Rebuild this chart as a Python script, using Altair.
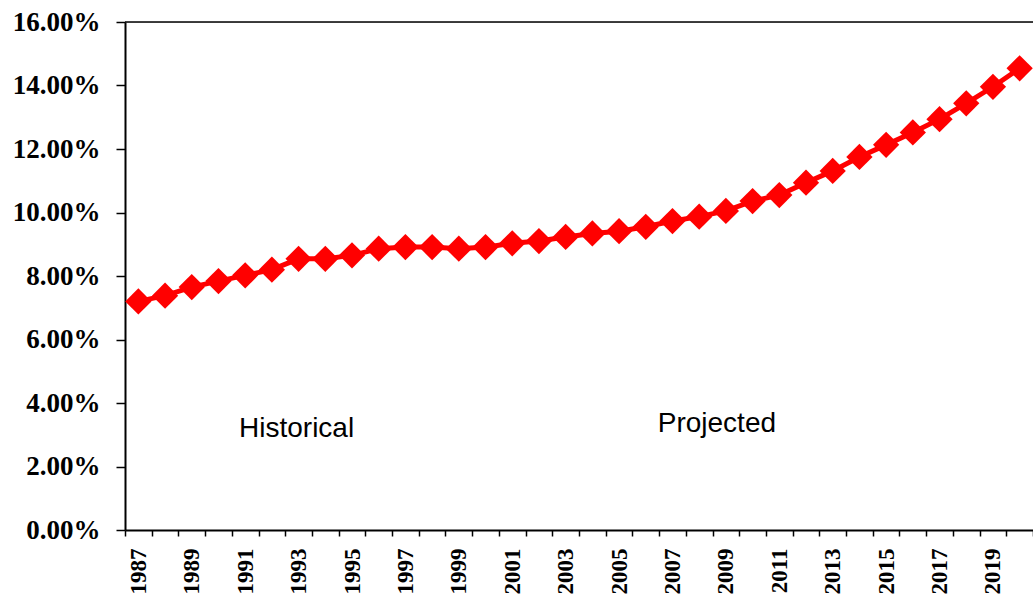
import altair as alt
import pandas as pd

# Share of total, by year (historical through 2003, projected afterwards)
years = list(range(1987, 2021))
share_pct = [
    7.20, 7.38, 7.65, 7.84, 8.02, 8.20, 8.54, 8.54, 8.65, 8.86,
    8.91, 8.91, 8.86, 8.91, 9.03, 9.10, 9.23, 9.34, 9.41, 9.55,
    9.73, 9.87, 10.05, 10.36, 10.55, 10.94, 11.31, 11.75, 12.13, 12.52,
    12.94, 13.44, 13.96, 14.54,
]

# Annotation text and where it sits
note_text = ["Historical", "Projected"]
note_year = [1993, 2009]
note_pct = [2.94, 3.10]

y_ticks = [0, 0.02, 0.04, 0.06, 0.08, 0.10, 0.12, 0.14, 0.16]

df = pd.DataFrame({"year": years, "share": [v / 100 for v in share_pct]})
notes = pd.DataFrame({"year": note_year, "share": [v / 100 for v in note_pct], "text": note_text})

x_scale = alt.Scale(type="band", paddingInner=0, paddingOuter=0)
y_scale = alt.Scale(domain=[0, 0.16], nice=False)

x_enc = alt.X(
    "year:O",
    scale=x_scale,
    title=None,
    axis=alt.Axis(
        tickBand="extent",
        labelAngle=270,
        labelAlign="right",
        labelBaseline="middle",
        labelExpr="datum.value % 2 == 1 ? datum.label : ''",
        labelOverlap=False,
        labelFont="Liberation Serif",
        labelFontWeight="bold",
        labelFontSize=23,
        labelColor="black",
        labelPadding=12,
        tickSize=6,
        tickColor="black",
        tickWidth=1.5,
        domainColor="black",
        domainWidth=2,
    ),
)
y_enc = alt.Y(
    "share:Q",
    scale=y_scale,
    title=None,
    axis=alt.Axis(
        values=y_ticks,
        format=".2%",
        labelFont="Liberation Serif",
        labelFontWeight="bold",
        labelFontSize=27,
        labelColor="black",
        labelPadding=16,
        tickSize=9,
        tickColor="black",
        tickWidth=1.5,
        domainColor="black",
        domainWidth=2,
        grid=False,
    ),
)

line = alt.Chart(df).mark_line(color="#ff0000", strokeWidth=5).encode(x=x_enc, y=y_enc)
points = alt.Chart(df).mark_point(
    shape="diamond", size=690, filled=True, color="#ff0000", opacity=1
).encode(x="year:O", y="share:Q")

top_border = alt.Chart(pd.DataFrame({"share": [0.16]})).mark_rule(
    color="black", strokeWidth=1.5
).encode(y="share:Q")


def note_layer(label, shift):
    return alt.Chart(notes).transform_filter(
        alt.datum.text == label
    ).mark_text(
        font="Liberation Sans", fontSize=28, color="black",
        align="center", baseline="alphabetic", dx=shift,
    ).encode(x="year:O", y="share:Q", text="text:N")


hist_note = note_layer("Historical", -2)
proj_note = note_layer("Projected", -9)

chart = (
    alt.layer(line, points, top_border, hist_note, proj_note)
    .properties(
        width=908,
        height=508,
        autosize=alt.AutoSizeParams(type="none"),
        padding={"left": 125, "top": 22, "right": 0, "bottom": 65},
    )
    .configure_view(stroke=None)
    .configure(background="white")
)

chart.save("out.html", embed_options={"renderer": "svg", "actions": False})
